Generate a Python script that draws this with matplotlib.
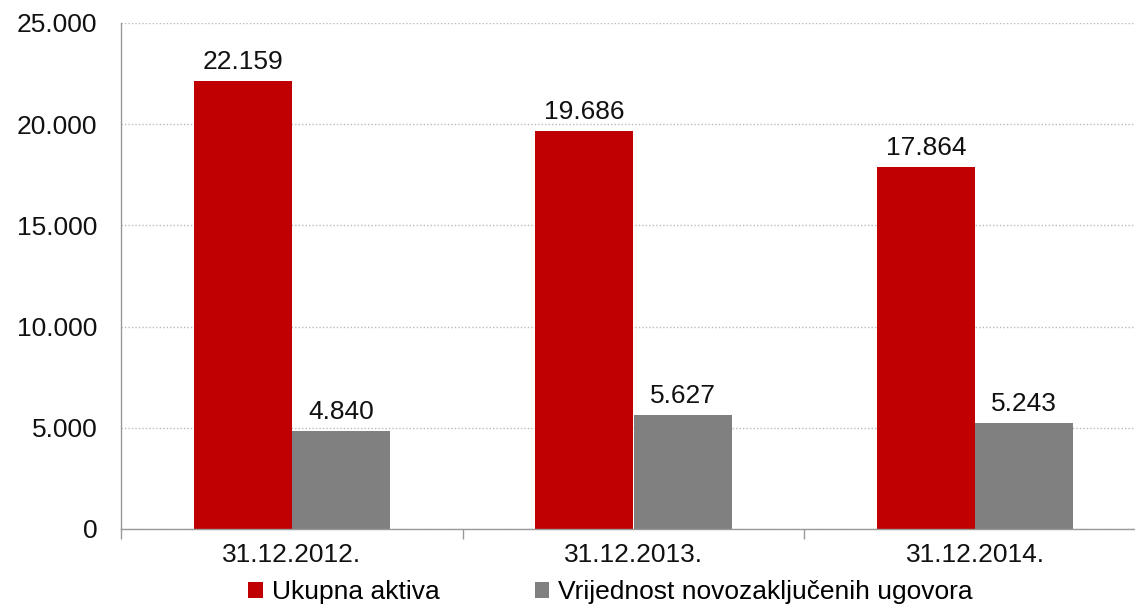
import matplotlib
matplotlib.use("Agg")
import matplotlib.pyplot as plt
from matplotlib.patches import Patch
import numpy as np

categories = ["31.12.2012.", "31.12.2013.", "31.12.2014."]
series_names = ["Ukupna aktiva", "Vrijednost novozaključenih ugovora"]
ukupna_aktiva = [22159, 19686, 17864]
novi_ugovori = [4840, 5627, 5243]
y_ticks = [0, 5000, 10000, 15000, 20000, 25000]

colors = ["#C00000", "#808080"]

def fmt(v):
    return f"{int(v):,}".replace(",", ".")

plt.rcParams['font.family'] = ['Liberation Sans', 'DejaVu Sans']
FS = 19

W, H = 1135, 615
fig = plt.figure(figsize=(W / 100, H / 100), dpi=100)
left, right = 121 / W, 1146 / W
bottom, top = (H - 529) / H, (H - 23) / H
ax = fig.add_axes([left, bottom, right - left, top - bottom])

x = np.arange(len(categories))
bw = 0.287
b1 = ax.bar(x - bw / 2, ukupna_aktiva, bw, color=colors[0], label=series_names[0])
b2 = ax.bar(x + bw / 2, novi_ugovori, bw, color=colors[1], label=series_names[1])

for bars, vals in ((b1, ukupna_aktiva), (b2, novi_ugovori)):
    for r, v in zip(bars, vals):
        ax.annotate(fmt(v), (r.get_x() + r.get_width() / 2, v), xytext=(0, 5),
                    textcoords="offset points", ha="center", va="bottom",
                    fontsize=FS, color="#111111")

ax.set_xlim(-0.5, len(categories) - 0.5)
ax.set_ylim(0, 25000)
ax.set_yticks(y_ticks)
ax.set_yticklabels([fmt(v) for v in y_ticks], fontsize=FS, color="#111111")
ax.tick_params(axis="y", length=0, pad=17)
ax.yaxis.grid(True, linestyle=(0, (1, 1.5)), color="#bbbbbb", linewidth=1)
ax.set_axisbelow(True)

ax.set_xticks(x)
ax.set_xticklabels(categories, fontsize=FS, color="#111111")
ax.tick_params(axis="x", which="major", length=0, pad=10)
ax.set_xticks(np.arange(len(categories) + 1) - 0.5, minor=True)
ax.tick_params(axis="x", which="minor", length=7, color="#999999", width=1)

for s in ("top", "right"):
    ax.spines[s].set_visible(False)
for s in ("left", "bottom"):
    ax.spines[s].set_color("#999999")
    ax.spines[s].set_linewidth(1)

handles = [Patch(facecolor=c, edgecolor="none") for c in colors]
fig.legend(handles, series_names, loc="lower center", bbox_to_anchor=(0.538, -0.012),
           ncol=2, frameon=False, fontsize=FS, handlelength=0.55, handleheight=0.55,
           handletextpad=0.35, columnspacing=3.6, borderpad=0.2)

fig.savefig("out.png", dpi=100)
